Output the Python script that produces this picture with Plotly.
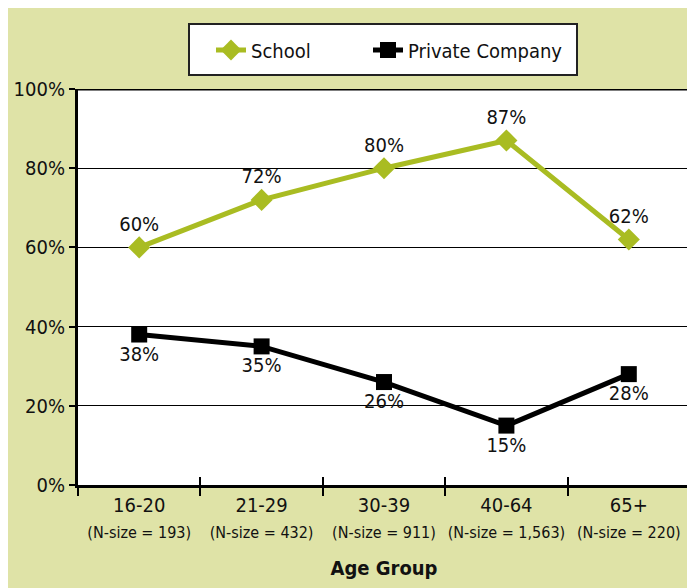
import plotly.graph_objects as go

age_groups = ["16-20", "21-29", "30-39", "40-64", "65+"]
n_sizes = ["193", "432", "911", "1,563", "220"]
school = [60, 72, 80, 87, 62]
private_company = [38, 35, 26, 15, 28]
y_ticks = [0, 20, 40, 60, 80, 100]
y_tick_labels = ["0%", "20%", "40%", "60%", "80%", "100%"]

FONT = "DejaVu Sans Condensed, Liberation Sans Narrow, Arial Narrow, sans-serif"
GREEN_BG = "#DFE3A7"
SCHOOL_COLOR = "#A9BC22"
TXT = "#111"

tick_text = [f"{a}<br><span style='font-size:16px'>(N-size = {n})</span>" for a, n in zip(age_groups, n_sizes)]

fig = go.Figure()
fig.add_trace(go.Scatter(
    x=age_groups, y=school, name="School", mode="lines+markers+text",
    line=dict(color=SCHOOL_COLOR, width=5),
    marker=dict(symbol="diamond", size=17, color=SCHOOL_COLOR),
    text=[f"{v}%" for v in school], textposition="top center",
    textfont=dict(family=FONT, size=20, color=TXT),
    cliponaxis=False, legend="legend",
))
fig.add_trace(go.Scatter(
    x=age_groups, y=private_company, name="Private Company", mode="lines+markers+text",
    line=dict(color="black", width=5),
    marker=dict(symbol="square", size=16, color="black"),
    text=[f"{v}%" for v in private_company], textposition="bottom center",
    textfont=dict(family=FONT, size=20, color=TXT),
    cliponaxis=False, legend="legend2",
))
# empty trace to carry the overlay axis used for the inner half of the crossing ticks
fig.add_trace(go.Scatter(
    x=age_groups, y=[None] * len(age_groups), xaxis="x2", mode="lines",
    showlegend=False, hoverinfo="skip",
))

# page is offset by the 8px browser body margin
OFF = 8
W, H = 695 - OFF, 588 - OFF
L, R, T, B = 78 - OFF, 5, 89 - OFF, 103
pw, ph = W - L - R, H - T - B

def px_x(p):
    return (p - OFF - L) / pw

def px_y(p):
    return (H - B - (p - OFF)) / ph

shapes = [
    dict(type="line", xref="paper", yref="y", x0=0, x1=1, y0=100, y1=100,
         line=dict(color="black", width=3)),
    # legend frame
    dict(type="rect", xref="paper", yref="paper", layer="above",
         x0=px_x(189), x1=px_x(577), y0=px_y(75), y1=px_y(24),
         fillcolor="white", line=dict(color="#222", width=2)),
]

legend_common = dict(
    orientation="h", yanchor="middle", y=px_y(50),
    bgcolor="rgba(0,0,0,0)", borderwidth=0,
    font=dict(family=FONT, size=20, color=TXT),
)

fig.update_layout(
    width=W, height=H,
    margin=dict(l=L, r=R, t=T, b=B, autoexpand=False),
    paper_bgcolor=GREEN_BG, plot_bgcolor="white",
    font=dict(family=FONT, size=20, color=TXT),
    shapes=shapes,
    showlegend=True,
    legend=dict(x=px_x(211), xanchor="left", **legend_common),
    legend2=dict(x=px_x(368), xanchor="left", **legend_common),
    xaxis=dict(
        type="category", categoryorder="array", categoryarray=age_groups,
        range=[-0.5, 4.5], tickmode="array", tickvals=age_groups, ticktext=tick_text,
        tickson="boundaries", ticks="outside", ticklen=8, tickwidth=2, tickcolor="black",
        ticklabelstandoff=0, tickangle=0,
        showline=True, linecolor="black", linewidth=3, showgrid=False, zeroline=False,
        tickfont=dict(family=FONT, size=20, color=TXT),
        title=dict(text="<b>Age Group</b>", font=dict(family=FONT, size=20, color=TXT), standoff=20),
        fixedrange=True, automargin=False,
    ),
    xaxis2=dict(
        type="category", categoryorder="array", categoryarray=age_groups,
        overlaying="x", anchor="y", side="bottom",
        range=[-0.5, 4.5], tickmode="array", tickvals=age_groups,
        tickson="boundaries", ticks="inside", ticklen=8, tickwidth=2, tickcolor="black",
        showticklabels=False, showline=False, showgrid=False, zeroline=False,
        fixedrange=True,
    ),
    yaxis=dict(
        range=[0, 100], tickmode="array", tickvals=y_ticks, ticktext=y_tick_labels,
        ticks="outside", ticklen=6, tickwidth=2, tickcolor="black",
        showline=True, linecolor="black", linewidth=3,
        showgrid=True, gridcolor="black", gridwidth=1, zeroline=False,
        tickfont=dict(family=FONT, size=20, color=TXT),
        fixedrange=True, automargin=False,
    ),
)

fig.write_html("out.html")
